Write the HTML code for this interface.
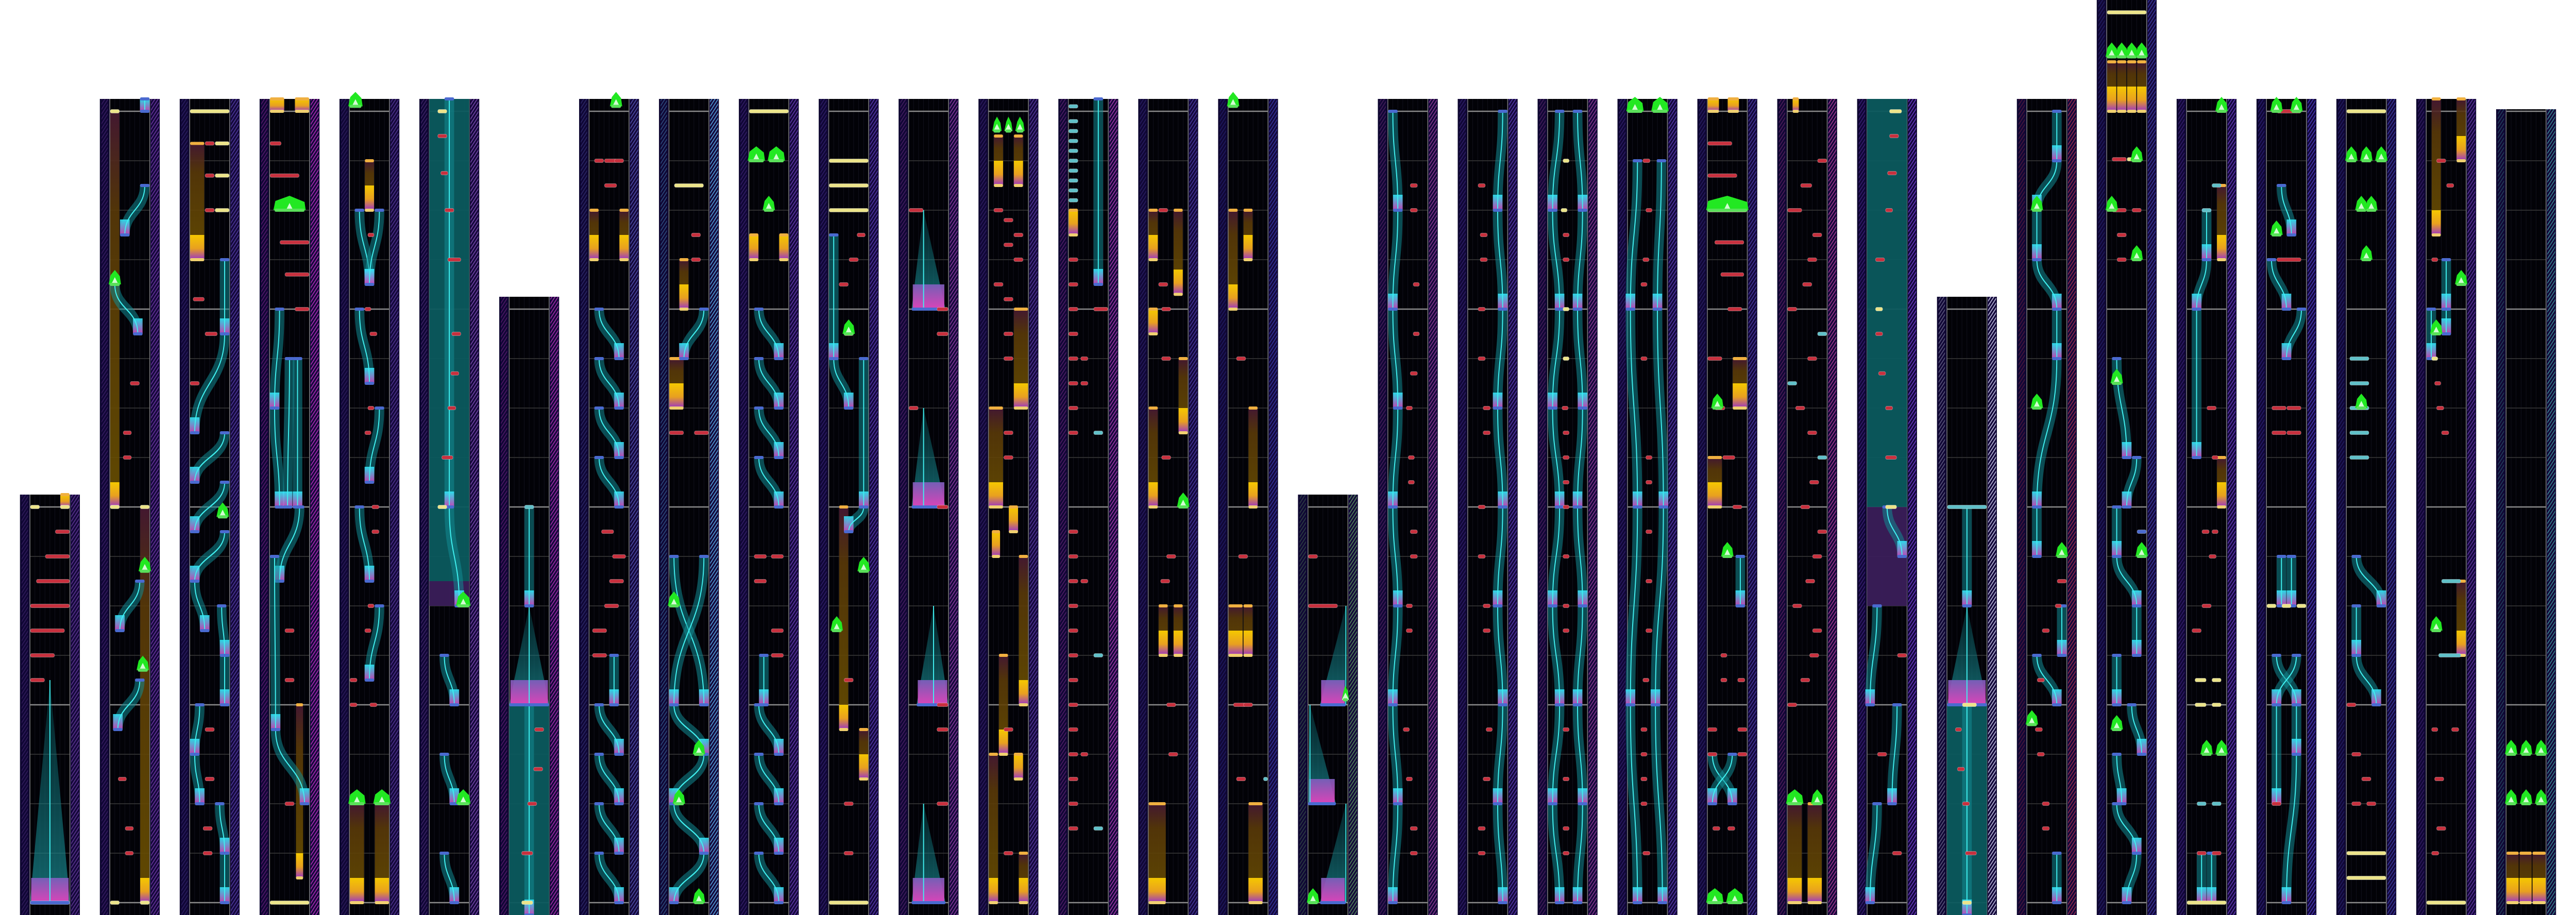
<!DOCTYPE html>
<html>
<head>
<meta charset="utf-8">
<style>
html,body{margin:0;padding:0;background:#fff;overflow:hidden;width:100%;height:100%;}
#wrap{width:100vw;height:100vh;position:relative;overflow:hidden;background:#fff;font-family:"Liberation Sans",sans-serif;}
svg{display:block;width:100%;height:100%;}
</style>
</head>
<body>
<div id="wrap">
<svg id="chart" viewBox="0 0 6450 1776" preserveAspectRatio="none" xmlns="http://www.w3.org/2000/svg">
<defs>
<linearGradient id="holdEnd" x1="0" y1="0" x2="0" y2="1"><stop offset="0" stop-color="#f5c800"/><stop offset="0.55" stop-color="#e8a020"/><stop offset="1" stop-color="#9a34c8"/></linearGradient>
<linearGradient id="holdBody" x1="0" y1="0" x2="0" y2="1"><stop offset="0" stop-color="#4a1a34"/><stop offset="0.25" stop-color="#5a3a08"/><stop offset="1" stop-color="#6a5000"/></linearGradient>
<linearGradient id="slideEnd" x1="0" y1="0" x2="0" y2="1"><stop offset="0" stop-color="#30f0ff"/><stop offset="1" stop-color="#e040c0"/></linearGradient>
<linearGradient id="fanGrad" x1="0" y1="0" x2="0" y2="1"><stop offset="0" stop-color="#0a6a70" stop-opacity="0.3"/><stop offset="1" stop-color="#1a8a90" stop-opacity="0.75"/></linearGradient>
<linearGradient id="fanEnd" x1="0" y1="0" x2="0" y2="1"><stop offset="0" stop-color="#8060c0"/><stop offset="1" stop-color="#f040c0"/></linearGradient>
</defs>
</svg>
</div>
<script>
// ---- layout data ----
const colTops = [960,192,192,192,192,192,576,192,192,192,192,192,192,192,192,192,
                 960,192,192,192,192,192,192,192,576,192,0,192,192,192,192,212];
const stripColors = ['#6a3aa0','#7a3ab0','#5a40b0','#d030d0','#5a3aa0','#8a50c0','#c030c0','#5a5ac0',
                     '#60c0ff','#7040c0','#6040c0','#a040b0','#6040b0','#c040c0','#5040b0','#3a3ab0',
                     '#60a060','#a040a0','#6040c0','#a040a0','#6040c0','#5040b0','#c040a0','#7a40e0',
                     '#e0e0ff','#b03050','#4040b0','#7040d0','#5040d0','#4040b0','#6a3ab0','#40a0a0'];
// fills: [col, lane0, lane1, beat0, beat1, kind(0 teal,1 purple)]
const fills = [[5,0,4,-0.3,9.5,0],[5,0,4,9.5,10,1],[6,0,4,12,16.3,0],[23,0,4,-0.3,8,0],[23,0,4,8,10,1],[24,0,4,12,16.3,0]];
// fans: [col, pointLane, baseLane0, baseLane1, beat0, beat1]
const fans = [[0,2,0,4,11.5,16],[6,2,0,4,10,12],[24,2,0,4,10,12],
              [11,1.5,0.3,3.7,2,4],[11,1.5,0.3,3.7,6,8],[11,2.5,0.8,4,10,12],[11,1.5,0.3,3.7,14,16],
              [16,3.8,1.2,3.8,10,12],[16,0.2,0,2.8,12,14],[16,3.8,1.2,3.8,14,16]];
// holds: [col, lane0, lane1, beat0, beat1]
const holds = [[0,3,4,7.75,8],[1,0,1,0,8],[1,3,4,8,16],[2,0,1.5,0.65,3],[3,0,1.5,-0.3,0],[3,2.5,4,-0.3,0],[3,2.6,3.4,12,15.5],
  [4,1.5,2.5,1,2],[4,0,1.5,14,16],[4,2.5,4,14,16],[7,0,1,2,3],[7,3,4,2,3],[8,1,2,3,4],[8,0,1.5,5,6],[9,0,1,2.5,3],[9,3,4,2.5,3],
  [10,1,2,8,12.5],[10,3,4,12.5,13.5],[12,0.5,1.5,0.5,1.5],[12,2.5,3.5,0.5,1.5],[12,2.5,4,4,6],[12,0,1.5,6,8],[12,0.3,1.2,8.5,9],
  [12,2,3,8,8.5],[12,3,4,9,12],[12,1,2,11,13],[12,2.5,3.5,13,13.5],[12,0,1,13,16],[12,3,4,15,16],[13,0,1,2,2.5],
  [14,0,1,2,3],[14,2.5,3.5,2,3.7],[14,0,1,4,4.5],[14,3,4,5,6.5],[14,0,1,6,8],[14,1,2,10,11],[14,2.5,3.5,10,11],[14,0,1.8,14,16],
  [15,0,1,2,4],[15,1.5,2.5,2,3],[15,2,3,6,8],[15,0,1.5,10,11],[15,1.5,2.5,10,11],[15,2,3.5,14,16],
  [21,0,1.2,-0.3,0],[21,2,3.2,-0.3,0],[21,2.5,4,5,6],[21,0,1.5,7,8],[22,0,1.5,14,16],[22,2,3.5,14,16],[22,0.5,1.2,-0.3,0],
  [26,0,1,-1,0],[26,1,2,-1,0],[26,2,3,-1,0],[26,3,4,-1,0],[27,3,4,1.5,3],[27,3,4,7,8],
  [30,0.5,1.5,-0.3,2.5],[30,3,4,-0.3,1],[30,3,4,9.5,11],[31,0,1.3,15,16],[31,1.3,2.6,15,16],[31,2.6,4,15,16]];
// slides: [col, lane0, lane1, beat0, beat1]
const slides = [[1,3.5,3.5,-0.3,0],[1,3.5,1.5,1.5,2.5],[1,0.5,2.8,3.5,4.5],[1,3,1,9.5,10.5],[1,3,0.8,11.5,12.5],
  [2,3.5,3.5,3,4.5],[2,3.5,0.5,4.5,6.5],[2,3.5,0.5,6.5,7.5],[2,3.5,0.5,7.5,8.5],[2,3.5,0.5,8.5,9.5],[2,0.5,1.5,9.5,10.5],
  [2,3.2,3.5,10,11],[2,3.5,3.5,11,12],[2,1,0.5,12,13],[2,0.5,1,13,14],[2,3,3.5,14,15],[2,3.5,3.5,15,16],
  [3,1,0.5,4,6],[3,0.5,1,6,8],[3,2,1.8,5,8],[3,2.8,2.8,5,8],[3,3,1,8,9.5],[3,0.5,0.6,9,12.5],[3,0.6,3.5,12.5,14],
  [4,1,2,2,3.5],[4,3,2,2,3.5],[4,1,2,4,5.5],[4,3,2,6,7.5],[4,1,2,8,9.5],[4,3,2,10,11.5],
  [5,2,2,-0.3,8],[5,2,3,8,10],[5,1.5,2.5,11,12],[5,1.5,2.5,13,14],[5,1.5,2.5,15,16],[6,2,2,8,10],[6,2,2,12,16.3],
  [7,1,3,4,5],[7,1,3,5,6],[7,1,3,6,7],[7,1,3,7,8],[7,2.5,2.5,11,12],[7,1,3,12,13],[7,1,3,13,14],[7,1,3,14,15],[7,1,3,15,16],
  [8,3.5,1.5,4,5],[8,0.5,3.5,9,12],[8,3.5,0.5,9,12],[8,0.5,3.5,12,13],[8,3.5,0.5,13,14],[8,0.5,3.5,14,15],[8,3.5,0.5,15,16],
  [9,1,3,4,5],[9,1,3,5,6],[9,1,3,6,7],[9,1,3,7,8],[9,1.5,1.5,11,12],[9,1,3,12,13],[9,1,3,13,14],[9,1,3,14,15],[9,1,3,15,16],
  [10,0.5,0.5,2.5,5],[10,0.5,2,5,6],[10,3.5,3.5,5,8],[10,3.5,2,8,8.5],[13,3,3,-0.3,3.5],
  [17,0.5,1,0,2],[17,1,0.5,2,4],[17,0.5,1,4,6],[17,1,0.5,6,8],[17,0.5,1,8,10],[17,1,0.5,10,12],[17,0.5,1,12,14],[17,1,0.5,14,16],
  [18,3.5,3,0,2],[18,3,3.5,2,4],[18,3.5,3,4,6],[18,3,3.5,6,8],[18,3.5,3,8,10],[18,3,3.5,10,12],[18,3.5,3,12,14],[18,3,3.5,14,16],
  [19,1.2,0.5,0,2],[19,0.5,1.2,2,4],[19,1.2,0.5,4,6],[19,0.5,1.2,6,8],[19,1.2,0.5,8,10],[19,0.5,1.2,10,12],[19,1.2,0.5,12,14],[19,0.5,1.2,14,16],
  [19,3,3.5,0,2],[19,3.5,3,2,4],[19,3,3.5,4,6],[19,3.5,3,6,8],[19,3,3.5,8,10],[19,3.5,3,10,12],[19,3,3.5,12,14],[19,3.5,3,14,16],
  [20,1,0.3,1,4],[20,0.3,1,4,8],[20,1,0.3,8,12],[20,0.3,1,12,16],[20,3.4,3,1,4],[20,3,3.6,4,8],[20,3.6,2.8,8,12],[20,2.8,3.5,12,16],
  [21,3.3,3.3,9,10],[21,0.5,2.5,13,14],[21,2.5,0.5,13,14],
  [23,2,3.5,8,9],[23,1,0.3,10,12],[23,3,2.5,12,14],[23,1,0.3,14,16],[24,2,2,8,10],[24,2,2,12,16.3],
  [25,3,3,0,1],[25,3,1,1,2],[25,1,1,2,3],[25,1,3,3,4],[25,3,3,4,5],[25,3,1,5,8],[25,1,1,8,9],[25,3.5,3.5,10,11],[25,1,3,11,12],[25,3,3,15,16],
  [26,1,2,5,7],[26,3,2,7,8],[26,1,1,8,9],[26,1,3,9,10],[26,3,3,10,11],[26,1,1,11,12],[26,2.5,3.5,12,13],[26,1,1.5,13,14],[26,1,3,14,15],[26,3,2,15,16],
  [27,2,2,2,3],[27,2,1,3,4],[27,1,1,4,7],[27,1.5,1.5,15,16],[27,2.5,2.5,15,16],
  [28,1.5,2.5,1.5,2.5],[28,0.5,2,3,4],[28,3.5,2,4,5],[28,1.5,1.5,9,10],[28,2.5,2.5,9,10],[28,1,3,11,12],[28,3,1,11,12],[28,1,1,12,14],[28,3,3,12,13],[28,3,2,13,16],
  [29,1,3.5,9,10],[29,1,1,10,11],[29,1,3,11,12],[30,0.5,0.5,4,5],[30,2,2,3,4],[30,2,2,4,4.5]];
// taps: [col, lane0, lane1, beat, kind(0 red,1 yellow,2 blue,3 cyan)]
const taps = [[0,0,1,8,1],[0,3,4,8,1],[0,2.5,4,8.5,0],[0,1.5,4,9,0],[0,0.6,4,9.5,0],[0,0,4,10,0],[0,0,3.5,10.5,0],[0,0,2.5,11,0],[0,0,1.5,11.5,0],[0,0,4,16,2],
  [1,0,1,0,1],[1,2,3,5.5,0],[1,1.3,2.2,6.5,0],[1,1.3,2.2,7,0],[1,0,1,8,1],[1,3,4,8,1],[1,0.8,1.7,13.5,0],[1,1.5,2.4,14.5,0],[1,1.5,2.4,15,0],[1,0,1,16,1],[1,3,4,16,1],
  [2,0,4,0,1],[2,1.5,2.5,0.65,0],[2,2.5,4,0.65,1],[2,1.5,2.5,1.3,0],[2,2.5,4,1.3,1],[2,1.5,2.5,2,0],[2,2.5,4,2,1],[2,0.3,1.5,3.8,0],[2,1.5,2.8,4.5,0],[2,0,1,5.5,0],[2,1.5,2.5,12.5,0],[2,1.5,2.5,13.5,0],[2,1.3,2.3,14.5,0],[2,1.3,2.3,15,0],
  [3,0,1.2,0.65,0],[3,0,3,1.3,0],[3,1,4,2.65,0],[3,1.5,4,3.3,0],[3,2.5,4,4,0],[3,1.5,2.5,10.5,0],[3,1.5,2.5,11.5,0],[3,1.5,2.5,14,0],[3,0,4,16,1],
  [4,1.8,2.5,2.5,0],[4,1.5,2.2,4,0],[4,2,2.8,4.5,0],[4,1.8,2.5,6,0],[4,1.5,2.2,6.5,0],[4,2.2,3,8,0],[4,2.2,3,8.5,0],[4,1.8,2.5,10,0],[4,1.5,2.2,10.5,0],[4,0,0.8,11.5,0],[4,0,0.8,12,0],[4,2,2.8,12,0],
  [5,0.8,1.8,0,1],[5,0.8,1.8,0.5,0],[5,1.1,1.9,1.25,0],[5,1.5,2.5,2,0],[5,1.8,3.2,3,0],[5,2.2,3.2,4.5,0],[5,2.1,3,5.3,0],[5,1.8,2.7,6,0],[5,1.2,2.4,7,0],[5,0.8,1.8,8,1],
  [6,2.5,3.5,12.5,0],[6,2.4,3.4,13.3,0],[6,1.8,2.8,14,0],[6,1.2,2.4,15,0],[6,1.2,2.4,16,1],[6,1.5,2.5,8,3],
  [7,0.5,1.5,1,0],[7,1.5,2.8,1,0],[7,2.5,3.5,1,0],[7,1.5,2.8,1.5,0],[7,1.2,2.5,8.5,0],[7,2.3,3.7,9,0],[7,2,3.5,9.5,0],[7,1.5,3,10,0],[7,0.3,1.8,10.5,0],[7,0.3,1.8,11,0],
  [8,0.5,3.5,1.5,1],[8,2.2,3.2,2.5,0],[8,2.2,3.2,3,0],[8,0,1.5,6.5,0],[8,2.5,4,6.5,0],
  [9,0,4,0,1],[9,0.5,1.8,9,0],[9,2.2,3.5,9,0],[9,0.5,1.8,9.5,0],[9,2.2,3.5,10.5,0],[9,2.2,3.5,11,0],
  [10,0,4,1,1],[10,0,4,1.5,1],[10,0,4,2,1],[10,2.8,3.7,2.5,0],[10,2,3,3,0],[10,1,2,3.5,0],[10,1.5,2.5,4.5,0],[10,1.5,2.5,11.5,0],[10,1.5,2.5,14,0],[10,1.5,2.5,15,0],[10,0,4,16,1],
  [11,0,1.5,2,0],[11,2.8,4,4,0],[11,2.8,4,4.5,0],[11,0,1,6,0],[11,2.8,4,8,0],[11,2.8,4,12,0],[11,2.8,4,12.5,0],[11,2.8,4,14,0],
  [12,0.5,1.5,2,0],[12,1.5,2.5,2.2,0],[12,2.5,3.5,2.5,0],[12,1.5,2.5,2.7,0],[12,2.5,3.5,3,0],[12,0.5,1.5,3.5,0],[12,1.5,2.5,3.8,0],[12,1.5,2.5,4.5,0],[12,1.5,2.5,5,0],[12,1.5,2.5,6.5,0],[12,1.5,2.5,7,0],[12,1.5,2.5,12.5,0],[12,1.5,2.5,15,0],
  [13,0,1,-0.1,3],[13,0,1,0.2,3],[13,0,1,0.4,3],[13,0,1,0.6,3],[13,0,1,0.8,3],[13,0,1,1,3],[13,0,1,1.2,3],[13,0,1,1.4,3],[13,0,1,1.6,3],[13,0,1,1.8,3],
  [13,0,1,3,0],[13,0,1,3.5,0],[13,0,1,4,0],[13,2.5,4,4,0],[13,0,1,4.5,0],[13,0,1,5,0],[13,1.2,2,5,0],[13,0,1,5.5,0],[13,1.2,2,5.5,0],[13,0,1,6,0],[13,0,1,6.5,0],[13,2.5,3.5,6.5,3],[13,0,1,8.5,0],[13,0,1,9,0],[13,0,1,9.5,0],[13,1.2,2,9.5,0],[13,0,1,10,0],[13,0,1,10.5,0],[13,0,1,11,0],[13,2.5,3.5,11,3],[13,0,1,11.5,0],[13,0,1,12,0],[13,0,1,12.5,0],[13,0,1,13,0],[13,1.2,2,13,0],[13,0,1,13.5,0],[13,0,1,14,0],[13,0,1,14.5,0],[13,2.5,3.5,14.5,3],
  [14,1,2,2,0],[14,1,2,3.5,0],[14,1.3,2.3,4,0],[14,1.3,2.3,5,0],[14,1.3,2.3,7,0],[14,1.8,2.8,9,0],[14,1.2,2.2,9.5,0],[14,1.8,2.8,12,0],[14,2,3,13,0],
  [15,0.8,1.8,5,0],[15,1,2,9,0],[15,0.5,1.8,12,0],[15,1.5,2.5,12,0],[15,0.8,1.8,13.5,0],[15,3.5,4,13.5,3],
  [16,0,1,9,0],[16,0,3,10,0],
  [17,2.2,3,1.5,0],[17,2.2,3,2,0],[17,2.5,3.2,3.5,0],[17,2.5,3.2,4.5,0],[17,2.2,3,5.3,0],[17,1.8,2.5,6,0],[17,2,2.7,7,0],[17,2,2.7,7.5,0],[17,2.2,3,8.5,0],[17,2.2,3,9,0],[17,1.8,2.5,10,0],[17,1.8,2.5,10.5,0],[17,1.5,2.2,12.5,0],[17,1.8,2.5,13.5,0],[17,2.2,3,14.5,0],[17,2.2,3,15,0],
  [18,1,1.8,1.5,0],[18,1.2,2,2.5,0],[18,1.2,2,3,0],[18,1,1.8,4,0],[18,1,1.8,5,0],[18,1.5,2.3,6,0],[18,1.5,2.3,6.5,0],[18,1,1.8,8,0],[18,1,1.8,9,0],[18,1.5,2.3,10,0],[18,1.5,2.3,10.5,0],[18,1.8,2.5,12.5,0],[18,1.5,2.3,13.5,0],[18,1,1.8,14.5,0],[18,1,1.8,15,0],
  [19,1.5,2.2,1,1],[19,1.3,2,2,1],[19,1.5,2.2,2.5,0],[19,1.5,2.2,3,0],[19,1.5,2.2,4,1],[19,1.5,2.2,5,1],[19,1.4,2.1,6,0],[19,1.5,2.2,6.5,0],[19,1.5,2.2,7,0],[19,1.5,2.2,7.5,0],[19,1.5,2.2,8,0],[19,1.5,2.2,9,0],[19,1.5,2.2,10,0],[19,1.5,2.2,10.5,0],[19,1.5,2.2,12.5,0],[19,1.5,2.2,13.5,0],[19,1.5,2.2,14.5,0],[19,1.5,2.2,15,0],
  [20,1.5,2.3,1,0],[20,1.8,2.5,2,0],[20,1.5,2.2,3,0],[20,1.3,2,3.5,0],[20,1.3,2,5,0],[20,1.8,2.5,7,0],[20,1.8,2.5,7.5,0],[20,1.8,2.5,8.5,0],[20,1.8,2.5,9.5,0],[20,1.8,2.5,10.5,0],[20,1.5,2.2,11.5,0],[20,1.3,2,12.5,0],[20,1.3,2,13,0],[20,1.3,2,13.5,0],[20,1.3,2,14,0],[20,1.5,2.3,15,0],
  [21,0,2.5,0.65,0],[21,0,3,1.3,0],[21,0,4,2,1],[21,0.7,3.7,2.65,0],[21,1.3,3.7,3.3,0],[21,2,3.5,4,0],[21,0,1.5,5,0],[21,0.7,1.8,6,0],[21,1.5,2.8,7,0],[21,2.5,3.5,8,0],[21,1.3,2,11,0],[21,1.3,2,11.5,0],[21,3,3.8,11.5,0],[21,0,1,12.5,0],[21,3,4,12.5,0],[21,0,1,13,0],[21,3,4,13,0],[21,0.5,1.3,14.5,0],[21,2,2.8,14.5,0],
  [22,3,4,1,0],[22,1.3,2.5,1.5,0],[22,0,1.5,2,0],[22,2.5,3.5,2.5,0],[22,2,3,3,0],[22,1.5,2.5,3.5,0],[22,0,1,4,0],[22,3,4,4.5,3],[22,2,3,5,0],[22,0,1,5.5,3],[22,0.8,1.8,6,0],[22,2,3,6.5,0],[22,3,4,7,3],[22,2.2,3.2,7.5,0],[22,1.3,2.3,8,0],[22,3,4,8.5,0],[22,2.5,3.5,9,0],[22,1.8,2.8,9.5,0],[22,0.5,1.5,10,0],[22,2.5,3.5,10.5,0],[22,2.2,3.2,11,0],[22,1.3,2.3,11.5,0],[22,0,1,12,0],
  [23,2.2,3.5,0,1],[23,2.2,3.2,0.5,0],[23,2,3,1.25,0],[23,1.8,2.6,2,0],[23,0.8,1.8,3,0],[23,0.8,1.6,4,1],[23,0.8,1.6,4.5,0],[23,1.1,1.9,5.3,0],[23,1.8,2.6,6,0],[23,1.8,3,7,0],[23,1.8,3,8,1],[23,3,4,11,0],[23,1,2,13,0],[23,2.5,3.5,15,0],
  [24,1.5,3,12,1],[24,0.8,1.5,12.5,0],[24,1,1.8,13.3,0],[24,1.5,2.3,14,0],[24,1.8,3,15,0],[24,1.5,2.5,16,1],[24,0,4,8,3],
  [25,3,4,9.5,0],[25,2.8,3.5,10,0],[25,1.5,2.3,10.5,0],[25,1,1.8,11.5,0],[25,0.8,1.6,12.5,0],[25,1,1.8,13,0],[25,1.5,2.3,14,0],[25,1.5,2.3,14.5,0],
  [26,0,4,-2,1],[26,0.5,2,0.97,0],[26,2,3,0.97,1],[26,0.5,2,2,0],[26,2.5,3.5,2,0],[26,1,2,2.5,0],[26,1,2,3,0],[26,3,4,8.5,2],
  [27,2.5,3.5,1.5,3],[27,1.5,2.5,2,3],[27,2,3,6,0],[27,2.5,3.2,7,0],[27,2.5,3.2,8.5,0],[27,1.5,2.3,8.5,0],[27,2.2,3,9,0],[27,1.5,2.5,10,0],[27,0.5,1.5,10.5,0],[27,0.8,2,11.5,1],[27,2.5,3.5,11.5,1],[27,0.8,2,12,1],[27,2.5,3.5,12,1],[27,1,2,14,3],[27,2.5,3.5,14,3],[27,1,2,15,0],[27,2.5,3.5,15,0],[27,0,4,16,1],
  [28,1,3.5,0,0],[28,1,3.5,3,0],[28,0.5,2,6,0],[28,2,3.5,6,0],[28,0.5,2,6.5,0],[28,2,3.5,6.5,0],[28,0,1,10,1],[28,1.5,2.5,10,1],[28,3,4,10,1],[28,0.5,1.5,14,0],
  [29,0,4,0,1],[29,0.3,2.3,5,3],[29,0.3,2.3,5.5,3],[29,0.3,2.3,6,3],[29,0.3,2.3,6.5,3],[29,0.3,2.3,7,3],[29,0,1,12,0],[29,0.5,1.5,13,0],[29,1.5,2.5,13.5,0],[29,0.5,1.5,14,0],[29,2,3,14,0],[29,0,4,15,1],[29,0,4,15.5,1],
  [30,1,2,1,0],[30,2,2.8,1.5,0],[30,0.5,1.2,3,0],[30,0.5,1.2,5,1],[30,0.8,1.5,5.5,0],[30,1,1.8,6,0],[30,1.5,2.3,6.5,0],[30,1.5,3.5,9.5,3],[30,1.2,3.5,11,3],[30,0.5,1.2,12.5,0],[30,2.5,3.3,12.5,0],[30,0.8,1.8,13.5,0],[30,1,2,14.5,0],[30,0.5,1.3,15,0],[30,0,4,16,1]];
// flicks: [col, lane0, lane1, beat]
const flicks = [[1,0,1,3.5],[1,3,4,9.3],[1,2.8,3.8,11.3],[2,2.8,3.8,8.2],[3,0.5,3.5,2],[4,0,1.5,14],[4,2.5,4,14],[4,0,1.2,-0.1],
  [5,2.8,4,10],[5,2.8,4,14],[7,2.2,3.2,-0.1],[9,0,1.5,1],[9,2,3.5,1],[9,1.5,2.5,2],[10,3,4,9.3],[10,0.3,1.3,10.5],[10,1.5,2.5,4.5],
  [12,0.5,1.2,0.4],[12,1.7,2.3,0.4],[12,2.8,3.5,0.4],[14,3,4,8],[15,0,1,-0.1],[8,0,1,10],[8,2.5,3.5,13],[8,0.5,1.5,14],[8,2.5,3.5,16],
  [16,0,1,16],[16,3.5,4,11.9],[20,0,1.5,0],[20,2.5,4,0],[21,0,4,2],[21,0.5,1.5,6],[21,1.5,2.5,9],[21,0,1.5,16],[21,2,3.5,16],
  [22,0,1.5,14],[22,2.5,3.5,14],[25,0.5,1.5,2],[25,0.5,1.5,6],[25,0,1,12.4],[25,3,4,9],
  [26,0,1,-1.1],[26,1,2,-1.1],[26,2,3,-1.1],[26,3,4,-1.1],[26,0,1,2],[26,2.5,3.5,3],[26,2.5,3.5,1],[26,0.5,1.5,5.5],[26,3,4,9],[26,0.5,1.5,12.5],
  [27,3,4,0],[27,1.5,2.5,13],[27,3,4,13],[28,0.5,1.5,0],[28,2.5,3.5,0],[28,0.5,1.5,2.5],[29,0,1,1],[29,1.5,2.5,1],[29,3,4,1],[29,1,2,2],[29,2,3,2],[29,1.5,2.5,3],[29,1,2,6],
  [30,3,4,3.5],[30,0.5,1.5,4.5],[30,0.5,1.5,10.5],[31,0,1,13],[31,1.5,2.5,13],[31,3,4,13],[31,0,1,14],[31,1.5,2.5,14],[31,3,4,14]];

// ---- scales ----
const NS = 'http://www.w3.org/2000/svg';
const svg = document.getElementById('chart');
const BEAT = 96, Y0 = 216;
function colX(c){ return 50 + 200*c; }
function X(c, lane){ return colX(c) + 25 + lane*25; }
function Y(b){ return Y0 + BEAT*b; }
function topBeat(c){ return (colTops[c]-Y0)/BEAT; }
function mk(tag, attrs, parent){
  const el = document.createElementNS(NS, tag);
  for (const k in attrs) el.setAttribute(k, attrs[k]);
  (parent||svg).appendChild(el);
  return el;
}
const defs = svg.querySelector('defs');
stripColors.forEach((col, i) => {
  const p = mk('pattern', {id:'hatch'+i, width:6, height:6, patternUnits:'userSpaceOnUse', patternTransform:'rotate(40)'}, defs);
  mk('rect', {x:0, y:0, width:6, height:6, fill:'#14093a'}, p);
  mk('rect', {x:0, y:0, width:2, height:6, fill:col, opacity:0.8}, p);
});

const layers = {};
['bg','fill','hold','fan','slide','tap','flick'].forEach(n => { layers[n] = mk('g', {}); });

colTops.forEach((top, c) => {
  const x = colX(c);
  const g = mk('g', {}, layers.bg);
  
  
  mk('rect', {x:x, y:top, width:150, height:1776-top, fill:'#0d0630'}, g);
  mk('rect', {x:x+4, y:top, width:16, height:1776-top, fill:'url(#hatch'+c+')', opacity:0.45}, g);
  mk('rect', {x:x+25, y:top, width:100, height:1776-top, fill:'#020207'}, g);
  mk('rect', {x:x+128, y:top, width:20, height:1776-top, fill:'url(#hatch'+c+')'}, g);
  for (let k=1;k<8;k++) mk('line', {x1:x+25+k*12.5, y1:top, x2:x+25+k*12.5, y2:1776, stroke:'#151522', 'stroke-width':1}, g);
  for (let b=Math.ceil(topBeat(c)); Y(b) <= 1776; b++) {
    const thick = ((b % 4) + 4) % 4 === 0;
    mk('line', {x1:x+25, y1:Y(b), x2:x+125, y2:Y(b), stroke: thick ? '#8a8a8a' : '#3a3a3a', 'stroke-width': thick ? 2.5 : 1.5}, g);
  }
  mk('line', {x1:x+25, y1:top, x2:x+25, y2:1776, stroke:'#7a7a7a', 'stroke-width':2}, g);
  mk('line', {x1:x+125, y1:top, x2:x+125, y2:1776, stroke:'#7a7a7a', 'stroke-width':2}, g);
});
function clampB(c, b){ return Math.max(b, topBeat(c)); }

fills.forEach(f => {
  const [c,l0,l1,b0,b1,kind] = f;
  const y0 = Y(clampB(c,b0));
  const el = mk('rect', {x:X(c,l0), y:y0, width:X(c,l1)-X(c,l0), height:Math.min(Y(b1),1776)-y0, fill: kind ? '#3a1e5a' : '#0b5a5e', opacity:0.95}, layers.fill);
  
  
});
holds.forEach(h => {
  const [c,l0,l1,b0,b1] = h;
  const g = mk('g', {}, layers.hold);
  
  
  const xa = X(c,l0)+1, w = X(c,l1)-X(c,l0)-2;
  const y0 = Y(clampB(c,b0)), y1 = Y(b1);
  const endLen = Math.min(BEAT*0.5, y1-y0);
  mk('rect', {x:xa, y:y0, width:w, height:y1-y0, fill:'url(#holdBody)', opacity:0.9}, g);
  mk('rect', {x:xa, y:y1-endLen, width:w, height:endLen, fill:'url(#holdEnd)'}, g);
  mk('rect', {x:xa, y:y0-3, width:w, height:6, rx:3, fill:'#f0b040'}, g);
  mk('rect', {x:xa, y:y1-3, width:w, height:6, rx:3, fill:'#f0d070'}, g);
});
fans.forEach(f => {
  const [c,pl,l0,l1,b0,b1] = f;
  const g = mk('g', {}, layers.fan);
  
  
  const y0 = Y(b0), y1 = Y(b1);
  mk('polygon', {points: X(c,pl)+','+y0+' '+X(c,l1)+','+y1+' '+X(c,l0)+','+y1, fill:'url(#fanGrad)'}, g);
  mk('rect', {x:X(c,l0)+3, y:y1-BEAT*0.5, width:X(c,l1)-X(c,l0)-6, height:BEAT*0.5, fill:'url(#fanEnd)', opacity:0.9}, g);
  mk('line', {x1:X(c,pl), y1:y0, x2:X(c,pl), y2:y1, stroke:'#40f0f0', 'stroke-width':2.5}, g);
  mk('rect', {x:X(c,l0), y:y1-3, width:X(c,l1)-X(c,l0), height:6, rx:3, fill:'#4a6ad0'}, g);
});
slides.forEach(s => {
  const [c,l0,l1,b0,b1] = s;
  const g = mk('g', {}, layers.slide);
  
  
  const x0 = X(c,l0), x1 = X(c,l1), y0 = Y(clampB(c,b0)), y1 = Math.min(Y(b1), 1776), ym = (y0+y1)/2;
  const d = 'M'+x0+' '+y0+' C'+x0+' '+ym+' '+x1+' '+ym+' '+x1+' '+y1;
  mk('path', {d:d, fill:'none', stroke:'#138a92', 'stroke-opacity':0.55, 'stroke-width':24}, g);
  mk('rect', {x:x1-12, y:y1-Math.min(30,y1-y0), width:24, height:Math.min(30,y1-y0), fill:'url(#slideEnd)', opacity:0.85}, g);
  mk('path', {d:d, fill:'none', stroke:'#40f0f0', 'stroke-width':2.5}, g);
  mk('rect', {x:x0-12, y:y0-3, width:24, height:6, rx:3, fill:'#4a6ad0'}, g);
  mk('rect', {x:x1-12, y:y1-3, width:24, height:6, rx:3, fill:'#4a6ad0'}, g);
});
const tapColors = ['#c8303e','#ece48a','#4a6ad0','#60c0c8'];
taps.forEach(t => {
  const [c,l0,l1,b,kind] = t;
  const el = mk('rect', {x:X(c,l0)+1, y:Y(b)-3.5, width:X(c,l1)-X(c,l0)-2, height:7, rx:3.5, fill:tapColors[kind], stroke:'#ffffff', 'stroke-opacity':0.35, 'stroke-width':1}, layers.tap);
  
  
});
flicks.forEach(f => {
  const [c,l0,l1,b] = f;
  const g = mk('g', {}, layers.flick);
  
  
  const xa = X(c,l0), xb = X(c,l1), y = Y(b), xm = (xa+xb)/2;
  mk('polygon', {points: (xa-3)+','+y+' '+(xa+2)+','+(y-18)+' '+xm+','+(y-28)+' '+(xb)+','+(y-16)+' '+(xb+3)+','+y, fill:'#22e822'}, g);
  mk('polygon', {points: (xm-9)+','+y+' '+xm+','+(y-14)+' '+(xm+9)+','+y, fill:'#ffffff', opacity:0.8}, g);
  mk('rect', {x:xa, y:y-3, width:xb-xa, height:6, rx:3, fill:'#5ae05a'}, g);
});
</script>
</body>
</html>
